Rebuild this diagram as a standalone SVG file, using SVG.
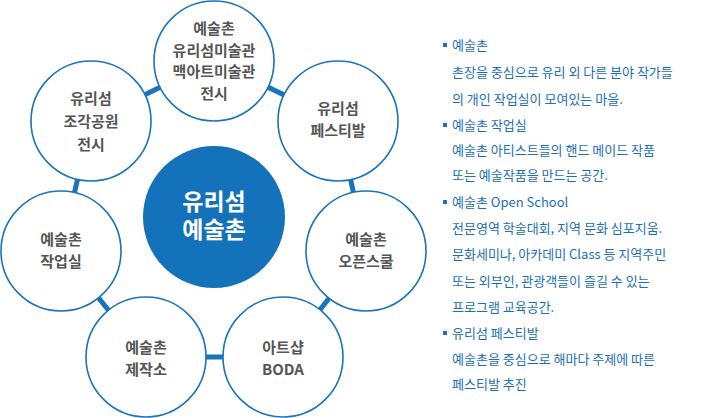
<svg xmlns="http://www.w3.org/2000/svg" width="702" height="418" viewBox="0 0 702 418">
<style>
.ring{fill:#fff;stroke:#1a74bb;stroke-width:1.6}
.hub{fill:#1372b9;stroke:none}
.lbl{font-family:"Noto Sans CJK KR","Noto Sans",sans-serif;font-size:15px;font-weight:700;fill:#555;text-anchor:middle}
.hubt{font-family:"Noto Sans CJK KR","Noto Sans",sans-serif;font-size:23px;font-weight:700;fill:#fff;text-anchor:middle}
.conn{stroke:#1a74bb;stroke-width:5;fill:none}
.desc{font-family:"Noto Sans CJK KR","Noto Sans",sans-serif;font-size:13px;fill:#1a6fb5}
.bul{fill:#1a74bb}
</style>
<g id="connectors">
<polyline class="conn" points="214,61 338,121 366,251 283,357 146,357 61,251 91,121 214,61"/>
</g>
<g id="n-top"><circle class="ring" cx="214" cy="61" r="60"/>
<text class="lbl" x="214" y="34">예술촌</text><text class="lbl" x="214" y="56">유리섬미술관</text><text class="lbl" x="214" y="77">맥아트미술관</text><text class="lbl" x="214" y="99">전시</text></g>
<g id="n-sculpture"><circle class="ring" cx="91" cy="121" r="60"/>
<text class="lbl" x="91" y="104">유리섬</text><text class="lbl" x="91" y="127">조각공원</text><text class="lbl" x="91" y="150">전시</text></g>
<g id="n-festival"><circle class="ring" cx="338" cy="121" r="60"/>
<text class="lbl" x="338" y="114">유리섬</text><text class="lbl" x="338" y="136">페스티발</text></g>
<g id="n-workshop"><circle class="ring" cx="61" cy="251" r="60"/>
<text class="lbl" x="61" y="245">예술촌</text><text class="lbl" x="61" y="267">작업실</text></g>
<g id="n-openschool"><circle class="ring" cx="366" cy="251" r="60"/>
<text class="lbl" x="366" y="245">예술촌</text><text class="lbl" x="366" y="267">오픈스쿨</text></g>
<g id="n-studio"><circle class="ring" cx="146" cy="357" r="60"/>
<text class="lbl" x="146" y="353">예술촌</text><text class="lbl" x="146" y="375">제작소</text></g>
<g id="n-boda"><circle class="ring" cx="283" cy="357" r="60"/>
<text class="lbl" x="283" y="353">아트샵</text><text class="lbl" x="283" y="375">BODA</text></g>
<g id="n-hub"><circle class="hub" cx="214" cy="217" r="71"/>
<text class="hubt" x="214" y="210">유리섬</text><text class="hubt" x="214" y="238">예술촌</text></g>
<g id="legend">
<rect class="bul" x="443" y="43" width="4" height="4"/>
<rect class="bul" x="443" y="123" width="4" height="4"/>
<rect class="bul" x="443" y="200" width="4" height="4"/>
<rect class="bul" x="443" y="331" width="4" height="4"/>
<text class="desc" x="452" y="50">예술촌</text>
<text class="desc" x="452" y="77">촌장을 중심으로 유리 외 다른 분야 작가들</text>
<text class="desc" x="452" y="104">의 개인 작업실이 모여있는 마을.</text>
<text class="desc" x="452" y="130">예술촌 작업실</text>
<text class="desc" x="452" y="155">예술촌 아티스트들의 핸드 메이드 작품</text>
<text class="desc" x="452" y="180">또는 예술작품을 만드는 공간.</text>
<text class="desc" x="452" y="207">예술촌 Open School</text>
<text class="desc" x="452" y="233">전문영역 학술대회, 지역 문화 심포지움.</text>
<text class="desc" x="452" y="259">문화세미나, 아카데미 Class 등 지역주민</text>
<text class="desc" x="452" y="286">또는 외부인, 관광객들이 즐길 수 있는</text>
<text class="desc" x="452" y="312">프로그램 교육공간.</text>
<text class="desc" x="452" y="338">유리섬 페스티발</text>
<text class="desc" x="452" y="364">예술촌을 중심으로 해마다 주제에 따른</text>
<text class="desc" x="452" y="389">페스티발 추진</text>
</g>
</svg>
